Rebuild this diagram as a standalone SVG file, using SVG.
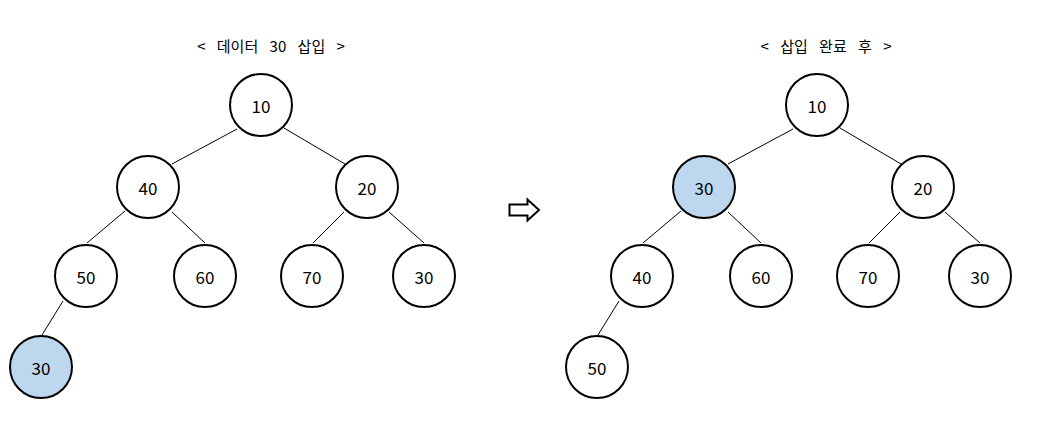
<svg xmlns="http://www.w3.org/2000/svg" width="1039" height="426" viewBox="0 0 1039 426">
<style>
.n{fill:#fff;stroke:#000;stroke-width:2}
.h{fill:#bdd7ee}
.t{font-family:"Noto Sans CJK KR","Noto Sans",sans-serif;font-size:17px;text-anchor:middle;dominant-baseline:central;fill:#000}
.ttl{font-family:"Noto Sans CJK KR","Noto Sans",sans-serif;font-size:15px;word-spacing:8px;text-anchor:middle;fill:#000}
.e{stroke:#000;stroke-width:1}
</style>
<rect width="1039" height="426" fill="#fff"/>
<text class="ttl" x="271" y="52">&lt; 데이터 30 삽입 &gt;</text>
<text class="ttl" x="826" y="52">&lt; 삽입 완료 후 &gt;</text>
<g id="connectors">
<line class="e" x1="237" y1="129" x2="172" y2="164"/>
<line class="e" x1="284" y1="128" x2="345" y2="164"/>
<line class="e" x1="125" y1="211" x2="87" y2="243"/>
<line class="e" x1="172" y1="212" x2="205" y2="243"/>
<line class="e" x1="344" y1="212" x2="313" y2="243"/>
<line class="e" x1="389" y1="212" x2="424" y2="243"/>
<line class="e" x1="63" y1="301" x2="42" y2="335"/>
<line class="e" x1="793" y1="129" x2="728" y2="164"/>
<line class="e" x1="840" y1="128" x2="901" y2="164"/>
<line class="e" x1="681" y1="211" x2="643" y2="243"/>
<line class="e" x1="728" y1="212" x2="761" y2="243"/>
<line class="e" x1="900" y1="212" x2="869" y2="243"/>
<line class="e" x1="945" y1="212" x2="980" y2="243"/>
<line class="e" x1="619" y1="301" x2="598" y2="335"/>
</g>
<g id="arrow"><path d="M509.5,204.5 H527.5 V199.5 L539,210 L527.5,220.5 V215.5 H509.5 Z" fill="#fff" stroke="#000" stroke-width="2"/></g>
<g id="L10"><circle class="n" cx="261" cy="105" r="31"/><text class="t" x="261" y="105">10</text></g>
<g id="L40"><circle class="n" cx="148" cy="187" r="31"/><text class="t" x="148" y="187">40</text></g>
<g id="L20"><circle class="n" cx="367" cy="187" r="31"/><text class="t" x="367" y="187">20</text></g>
<g id="L50"><circle class="n" cx="86" cy="276" r="31"/><text class="t" x="86" y="276">50</text></g>
<g id="L60"><circle class="n" cx="205" cy="276" r="31"/><text class="t" x="205" y="276">60</text></g>
<g id="L70"><circle class="n" cx="312" cy="276" r="31"/><text class="t" x="312" y="276">70</text></g>
<g id="L30a"><circle class="n" cx="424" cy="276" r="31"/><text class="t" x="424" y="276">30</text></g>
<g id="L30b"><circle class="n h" cx="41" cy="367" r="31"/><text class="t" x="41" y="367">30</text></g>
<g id="R10"><circle class="n" cx="817" cy="105" r="31"/><text class="t" x="817" y="105">10</text></g>
<g id="R30"><circle class="n h" cx="704" cy="187" r="31"/><text class="t" x="704" y="187">30</text></g>
<g id="R20"><circle class="n" cx="923" cy="187" r="31"/><text class="t" x="923" y="187">20</text></g>
<g id="R40"><circle class="n" cx="642" cy="276" r="31"/><text class="t" x="642" y="276">40</text></g>
<g id="R60"><circle class="n" cx="761" cy="276" r="31"/><text class="t" x="761" y="276">60</text></g>
<g id="R70"><circle class="n" cx="868" cy="276" r="31"/><text class="t" x="868" y="276">70</text></g>
<g id="R30b"><circle class="n" cx="980" cy="276" r="31"/><text class="t" x="980" y="276">30</text></g>
<g id="R50"><circle class="n" cx="597" cy="367" r="31"/><text class="t" x="597" y="367">50</text></g>
</svg>
